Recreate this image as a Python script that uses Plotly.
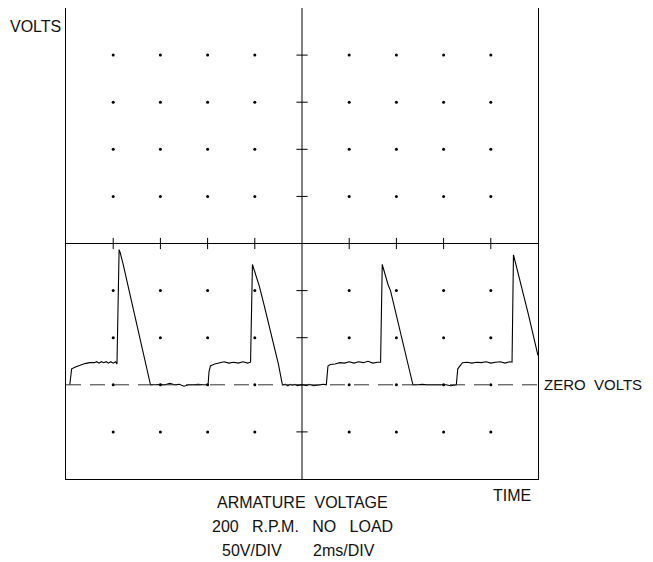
import plotly.graph_objects as go

# oscilloscope trace: time in ms (2 ms/div), voltage in V (50 V/div)
t_ms = [
    0.16, 0.24, 0.4, 0.6, 0.8, 1.0, 1.2, 1.3, 1.4, 1.5, 1.6, 1.7, 1.8, 1.9, 2.0, 2.1, 2.16,
    2.25, 2.3, 2.42, 2.6, 2.8, 3.0, 3.2, 3.4, 3.58,
    3.8, 4.0, 4.2, 4.4, 4.6, 4.8, 5.0, 5.2, 5.4, 5.6, 5.8, 6.02,
    6.06, 6.12, 6.3, 6.5, 6.7, 6.9, 7.1, 7.3, 7.5, 7.7, 7.82,
    7.9, 8.05, 8.2, 8.4, 8.6, 8.8, 9.0, 9.17,
    9.3, 9.4, 9.5, 9.6, 9.7, 9.8, 10.0, 10.2, 10.3, 10.5, 10.7, 10.9, 11.03,
    11.06, 11.1, 11.2, 11.4, 11.6, 11.8, 12.0, 12.2, 12.4, 12.6, 12.8, 13.0, 13.2, 13.33,
    13.4, 13.55, 13.65, 13.75, 13.9, 14.1, 14.3, 14.5, 14.7,
    14.9, 15.1, 15.3, 15.5, 15.7, 15.9, 16.1, 16.3, 16.54,
    16.6, 16.7, 16.8, 17.0, 17.2, 17.4, 17.6, 17.8, 18.0, 18.2, 18.4, 18.6, 18.8, 18.9,
    18.96, 19.1, 19.3, 19.6, 20.0,
]
volts = [
    0, 17, 19, 21, 22.5, 23.5, 23.5, 24.5, 23, 24.5, 23.5, 24.5, 23, 24.5, 23, 24.5, 22,
    143.5, 140, 128, 108, 88, 64, 42, 20, 0,
    0, 0.5, 0, 1.5, 0, 0.5, -1.5, 0, 0, 0.5, 0, 0,
    14, 20, 22, 23, 24.5, 23, 24, 23, 24.5, 23, 24,
    127.7, 116, 104, 84, 64, 44, 22, 0,
    0.5, -1, 0.5, -0.5, 0.5, -1, 0, -1, 0.5, -1, 0, 0.5, 0,
    10, 20, 21.5, 22, 23.5, 23, 24.5, 23, 24.5, 23.5, 25, 23, 24, 24,
    127.7, 113, 106, 100, 84, 62, 40, 20, 0,
    0, 0.5, 0, 0, 0.5, 0, 0, -1, 0,
    17, 21, 23.5, 24, 23, 24, 23.5, 24.5, 23, 24, 24.5, 23, 24.5, 24,
    138, 124, 105, 74, 31,
]

# graticule: dots at each division, ticks on the centre lines
dot_t = [2, 4, 6, 8, 12, 14, 16, 18]
dot_v = [-50, 0, 50, 100, 200, 250, 300, 350]
tick_t = [2, 4, 6, 8, 12, 14, 16, 18]
tick_v = [-50, 0, 50, 100, 200, 250, 300, 350]

FONT = "Liberation Sans"
W, H = 645, 554          # page body adds 8px margin on top/left
L, R, T, B = 58, 115, 0, 83
PW, PH = W - L - R, H - T - B

fig = go.Figure()

fig.add_trace(go.Scatter(
    x=[t for t in dot_t for _ in dot_v],
    y=[v for _ in dot_t for v in dot_v],
    mode="markers", marker=dict(size=3, color="black"),
    hoverinfo="skip", showlegend=False,
))
# ticks on the horizontal centre line
fig.add_trace(go.Scatter(
    x=tick_t, y=[150] * len(tick_t), mode="markers",
    marker=dict(symbol="line-ns", size=8, line=dict(width=1, color="black")),
    hoverinfo="skip", showlegend=False,
))
# ticks on the vertical centre line
fig.add_trace(go.Scatter(
    x=[10] * len(tick_v), y=tick_v, mode="markers",
    marker=dict(symbol="line-ew", size=8, line=dict(width=1, color="black")),
    hoverinfo="skip", showlegend=False,
))
fig.add_trace(go.Scatter(
    x=t_ms, y=volts, mode="lines",
    line=dict(color="black", width=1.1),
    showlegend=False,
))

# centre cross and zero line
fig.add_shape(type="line", x0=10, x1=10, y0=-100, y1=400,
              line=dict(color="black", width=1))
fig.add_shape(type="line", x0=0, x1=20, y0=150, y1=150,
              line=dict(color="black", width=1))
fig.add_shape(type="line", x0=0, x1=20, y0=0, y1=0,
              line=dict(color="#333", width=1, dash="15px,9px"))

txt = dict(family=FONT, size=16, color="#111")
fig.add_annotation(text="VOLTS", x=-L / PW, y=1 - 19 / PH,
                   xref="paper", yref="paper",
                   showarrow=False, font=txt, xanchor="left", yanchor="middle")
fig.add_annotation(text="ZERO\u00a0\u00a0VOLTS", x=20, y=0, xref="x", yref="y",
                   xshift=4, showarrow=False, font=dict(family=FONT, size=15, color="#111"),
                   xanchor="left", yanchor="middle")
fig.add_annotation(text="TIME", x=20, y=-100, xref="x", yref="y",
                   xshift=-5, yshift=-16, showarrow=False, font=txt,
                   xanchor="right", yanchor="middle")
for i, line in enumerate([
    "ARMATURE\u00a0\u00a0VOLTAGE",
    "200\u00a0\u00a0\u00a0R.P.M.\u00a0\u00a0\u00a0NO\u00a0\u00a0\u00a0LOAD",
]):
    fig.add_annotation(text=line, x=10, y=-100, xref="x", yref="y",
                       yshift=-23 - 24 * i, showarrow=False,
                       font=txt, xanchor="center", yanchor="middle")
# third caption line, words placed separately to match the wide plotter font
fig.add_annotation(text="50V/DIV", x=10, y=-100, xref="x", yref="y",
                   xshift=-50, yshift=-71, showarrow=False,
                   font=txt, xanchor="center", yanchor="middle")
fig.add_annotation(text="2ms/DIV", x=10, y=-100, xref="x", yref="y",
                   xshift=42, yshift=-71, showarrow=False,
                   font=txt, xanchor="center", yanchor="middle")

fig.update_layout(
    width=W, height=H,
    margin=dict(l=L, r=R, t=T, b=B),
    paper_bgcolor="white", plot_bgcolor="white",
    xaxis=dict(range=[0, 20], showgrid=False, zeroline=False, showticklabels=False,
               ticks="", showline=True, mirror=True, linecolor="black", linewidth=1),
    yaxis=dict(range=[-100, 400], showgrid=False, zeroline=False, showticklabels=False,
               ticks="", showline=True, mirror=True, linecolor="black", linewidth=1),
    showlegend=False,
)

fig.write_html("out.html")
